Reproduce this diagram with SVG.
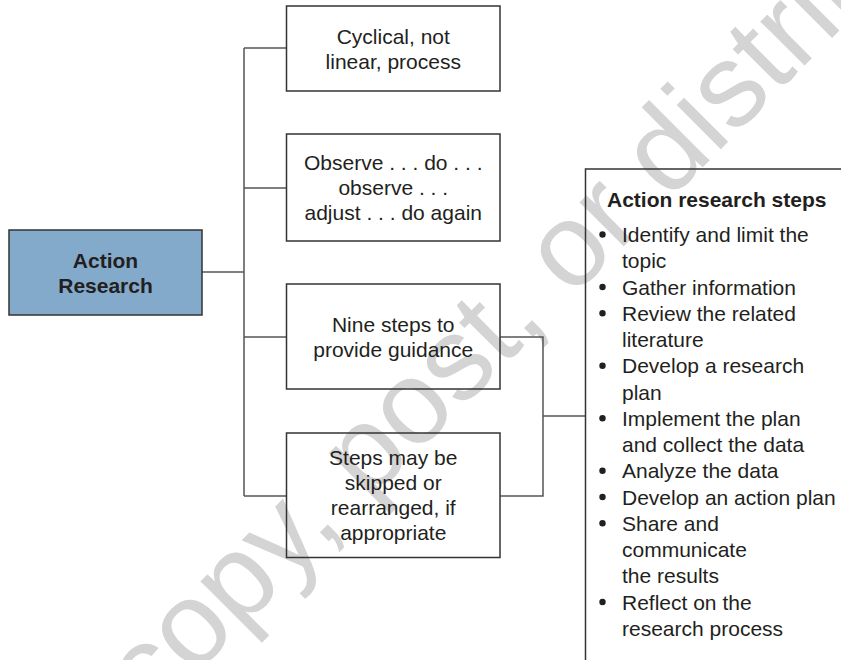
<svg xmlns="http://www.w3.org/2000/svg" width="841" height="660" viewBox="0 0 841 660">
<style>
.t{font-family:"Liberation Sans",Arial,Helvetica,sans-serif;font-size:21px;fill:#231f20}
.c{text-anchor:middle}
.b{font-weight:bold}
.box{fill:none;stroke:#333;stroke-width:1.5}
.ln{fill:none;stroke:#555;stroke-width:1.5}
.wm{font-family:"Liberation Sans",Arial,Helvetica,sans-serif;font-size:118px;fill:#d4d4d4}
</style>
<rect x="0" y="0" width="841" height="660" fill="#fff"/>
<text class="wm" transform="translate(151,719) rotate(-45)">copy, post, or distribute</text>
<g id="connectors">
<path class="ln" d="M202,272H244M244,48V496M244,48H287M244,188H287M244,337H287M244,496H287"/>
<path class="ln" d="M500,337H543V496H500M543,416H585.5"/>
</g>
<g id="action-research">
<rect x="9" y="230" width="193" height="85" fill="#84aacb" stroke="#333" stroke-width="1.5"/>
<text class="t c b" x="105.5" y="267.5">Action</text>
<text class="t c b" x="105.5" y="292.5">Research</text>
</g>
<g id="cyclical">
<rect class="box" x="286.5" y="6" width="213.5" height="85"/>
<text class="t c" x="393.25" y="43.5">Cyclical, not</text>
<text class="t c" x="393.25" y="68.5">linear, process</text>
</g>
<g id="observe">
<rect class="box" x="286.5" y="134" width="213.5" height="107"/>
<text class="t c" x="393.25" y="170">Observe . . . do . . .</text>
<text class="t c" x="393.25" y="195">observe . . .</text>
<text class="t c" x="393.25" y="220">adjust . . . do again</text>
</g>
<g id="nine-steps">
<rect class="box" x="286.5" y="284" width="213.5" height="105"/>
<text class="t c" x="393.25" y="331.5">Nine steps to</text>
<text class="t c" x="393.25" y="356.5">provide guidance</text>
</g>
<g id="skipped">
<rect class="box" x="286.5" y="433" width="213.5" height="124.5"/>
<text class="t c" x="393.25" y="465">Steps may be</text>
<text class="t c" x="393.25" y="490">skipped or</text>
<text class="t c" x="393.25" y="515">rearranged, if</text>
<text class="t c" x="393.25" y="540">appropriate</text>
</g>
<g id="steps-list">
<path class="box" d="M845,169H585.5V665"/>
<text class="t b" x="607" y="207">Action research steps</text>
<g fill="#231f20">
<circle cx="602.5" cy="234.5" r="3.2"/>
<circle cx="602.5" cy="287" r="3.2"/>
<circle cx="602.5" cy="313.25" r="3.2"/>
<circle cx="602.5" cy="365.75" r="3.2"/>
<circle cx="602.5" cy="418.25" r="3.2"/>
<circle cx="602.5" cy="470.75" r="3.2"/>
<circle cx="602.5" cy="497" r="3.2"/>
<circle cx="602.5" cy="523.25" r="3.2"/>
<circle cx="602.5" cy="602" r="3.2"/>
</g>
<text class="t" x="622" y="242">Identify and limit the</text>
<text class="t" x="622" y="268.25">topic</text>
<text class="t" x="622" y="294.5">Gather information</text>
<text class="t" x="622" y="320.75">Review the related</text>
<text class="t" x="622" y="347">literature</text>
<text class="t" x="622" y="373.25">Develop a research</text>
<text class="t" x="622" y="399.5">plan</text>
<text class="t" x="622" y="425.75">Implement the plan</text>
<text class="t" x="622" y="452">and collect the data</text>
<text class="t" x="622" y="478.25">Analyze the data</text>
<text class="t" x="622" y="504.5">Develop an action plan</text>
<text class="t" x="622" y="530.75">Share and</text>
<text class="t" x="622" y="557">communicate</text>
<text class="t" x="622" y="583.25">the results</text>
<text class="t" x="622" y="609.5">Reflect on the</text>
<text class="t" x="622" y="635.75">research process</text>
</g>
</svg>
